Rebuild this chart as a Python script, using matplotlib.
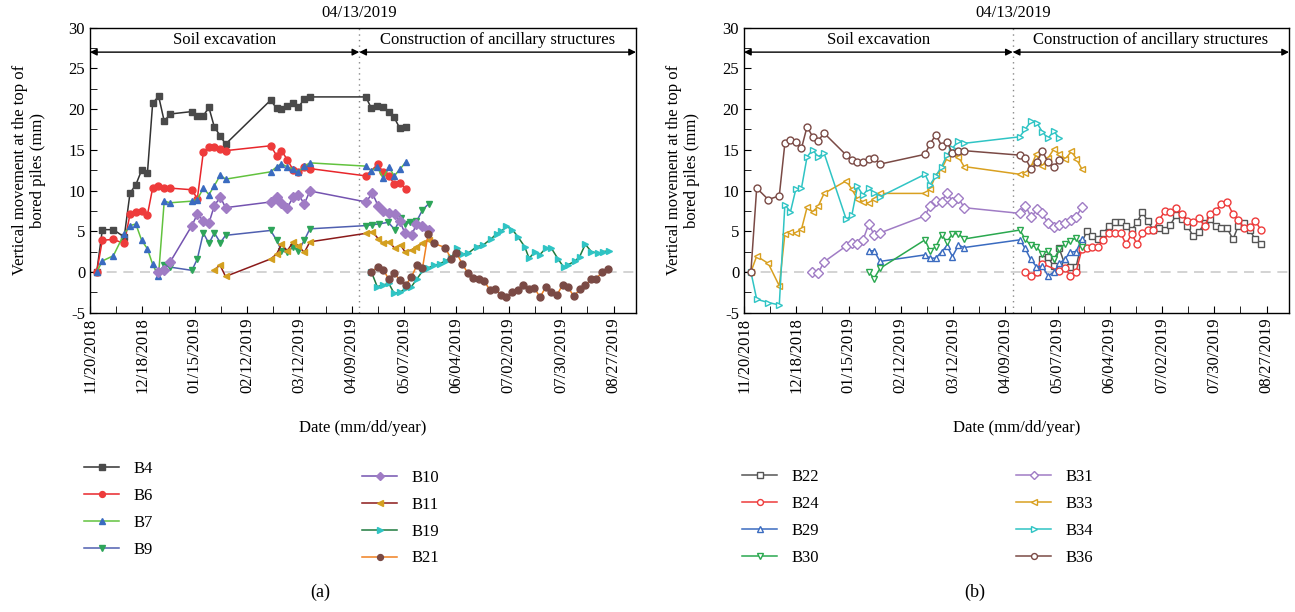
import numpy as np
import matplotlib
matplotlib.use("Agg")
import matplotlib.pyplot as plt
import matplotlib.dates as mdates
from matplotlib.ticker import FixedLocator, MultipleLocator
from datetime import datetime

plt.rcParams['font.family'] = ['Liberation Serif', 'DejaVu Serif']
plt.rcParams['axes.unicode_minus'] = False

# ---------------- data (days after 11/20/2018, vertical movement in mm) ----------------
START = "2018-11-20"
EVENT_DAY = 144  # 04/13/2019
MAJOR_TICK_DAYS = [0, 28, 56, 84, 112, 140, 168, 196, 224, 252, 280]

# Panel (a)
B4_d = [3.6, 6.6, 12.5, 18.3, 21.4, 24.5, 27.6, 30.7, 33.5, 36.7, 39.7, 42.8, 54.5, 57.4, 60.6, 63.6,
        66.5, 69.7, 72.5, 96.6, 99.8, 102.4, 105.5, 108.7, 111.5, 114.6, 117.6, 147.5, 150.5, 153.6,
        156.6, 159.8, 162.6, 165.7, 168.9]
B4_v = [0, 5.2, 5.2, 4.3, 9.7, 10.7, 12.5, 12.1, 20.7, 21.6, 18.5, 19.4, 19.7, 19.2, 19.2, 20.2,
        17.8, 16.7, 15.7, 21.1, 20.1, 20.0, 20.4, 20.7, 20.2, 21.3, 21.5, 21.5, 20.1, 20.4,
        20.3, 19.6, 19.0, 17.65, 17.85]

B6_d = [3.6, 6.6, 12.5, 18.3, 21.4, 24.5, 27.6, 30.7, 33.5, 36.6, 39.7, 42.8, 54.5, 57.4, 60.6, 63.6,
        66.5, 69.7, 72.5, 96.6, 99.8, 102.4, 105.5, 108.7, 111.5, 114.6, 117.6, 147.5, 153.8, 156.8,
        159.9, 162.7, 165.7, 168.9]
B6_v = [0, 3.9, 4.0, 3.5, 7.1, 7.4, 7.5, 7.0, 10.3, 10.6, 10.3, 10.3, 10.1, 9.0, 14.7, 15.3,
        15.3, 15.1, 14.9, 15.5, 14.3, 14.9, 13.8, 12.5, 12.3, 12.9, 12.7, 11.8, 13.2, 12.3,
        11.8, 10.8, 10.9, 10.2]

B7_d = [3.6, 6.6, 12.5, 18.3, 21.5, 24.5, 27.6, 30.7, 33.5, 36.6, 39.7, 42.8, 54.5, 57.4, 60.6, 63.6,
        66.5, 69.7, 72.5, 96.6, 99.8, 102.4, 105.5, 108.7, 111.5, 114.6, 117.6, 147.5, 150.5, 153.6,
        156.8, 159.8, 162.7, 165.7, 168.9]
B7_v = [0, 1.35, 2.0, 4.7, 5.7, 5.9, 3.9, 2.85, 0.95, -0.55, 8.7, 8.5, 8.7, 8.9, 10.3, 9.5,
        10.6, 11.9, 11.4, 12.3, 12.9, 13.3, 12.9, 12.65, 12.3, 13.0, 13.4, 13.0, 12.4, 12.9,
        11.5, 12.9, 11.8, 12.6, 13.5]

B9_d = [36.6, 39.7, 42.8, 54.5, 57.4, 60.6, 63.6, 66.5, 69.7, 72.5, 96.6, 99.8, 102.4, 105.5, 108.7,
        111.5, 114.6, 117.6, 147.7, 151.0, 154.5, 159.5, 163.0, 166.1, 168.5, 171.1, 174.6, 177.8, 181.2]
B9_v = [0, 0.8, 0.6, 0.2, 1.6, 4.8, 3.5, 4.8, 3.6, 4.5, 5.1, 3.9, 2.6, 2.4, 3.1,
        2.6, 3.9, 5.3, 5.7, 5.8, 5.9, 6.1, 5.2, 6.6, 5.9, 6.1, 6.2, 7.6, 8.4]

B10_d = [36.6, 39.7, 42.8, 54.5, 57.4, 60.6, 63.6, 66.5, 69.7, 72.5, 96.6, 99.8, 102.4, 105.5, 108.7,
         111.5, 114.6, 117.6, 147.7, 151.0, 154.1, 156.8, 160.0, 163.0, 165.7, 168.4, 172.0, 174.6,
         177.8, 181.2]
B10_v = [0, 0.25, 1.2, 5.7, 7.1, 6.3, 6.0, 8.15, 9.2, 7.9, 8.6, 9.2, 8.5, 7.9, 9.2,
         9.5, 8.35, 9.95, 8.6, 9.7, 8.1, 7.5, 7.2, 7.1, 6.2, 4.8, 4.5, 5.9,
         5.6, 5.2]

B11_d = [66.5, 69.5, 72.5, 96.6, 99.8, 102.4, 105.5, 108.7, 111.5, 114.6, 117.6, 147.7, 151.0, 154.1,
         156.8, 160.0, 163.0, 166.1, 168.4, 172.0, 174.6, 177.8, 181.2]
B11_v = [0.25, 0.85, -0.55, 1.6, 2.2, 3.4, 2.6, 3.7, 3.2, 2.4, 3.7, 4.75, 4.95, 4.1,
         3.5, 3.7, 2.9, 3.3, 2.5, 2.7, 3.1, 3.5, 3.9]

B19_d = [150.5, 153.6, 156.8, 159.8, 162.6, 165.7, 168.9, 171.9, 175.0, 178.1, 180.8, 184.0, 187.0,
         190.3, 193.3, 196.3, 199.2, 202.2, 206.7, 210.2, 214.7, 217.4, 220.0, 222.7, 225.9, 228.9,
         232.5, 234.8, 237.8, 240.5, 243.7, 246.8, 250.3, 253.3, 255.7, 259.2, 261.9, 264.9, 268.1,
         271.7, 274.4, 277.6]
B19_v = [0.0, -1.8, -1.6, -1.4, -2.6, -2.5, -2.0, -1.8, -0.8, 0.2, 0.5, 0.8, 1.0,
         1.4, 1.8, 2.9, 2.2, 2.3, 3.1, 3.3, 4.1, 4.7, 5.0, 5.6, 5.2, 4.3,
         3.1, 1.7, 2.4, 2.1, 2.9, 2.9, 1.6, 0.6, 0.9, 1.3, 1.9, 3.4, 2.5,
         2.3, 2.5, 2.6]

B21_d = [150.5, 153.8, 156.8, 159.8, 162.6, 165.7, 168.9, 171.9, 175.0, 177.8, 180.8, 184.0, 190.0,
         193.0, 196.0, 199.0, 202.0, 205.0, 207.8, 210.8, 213.8, 216.8, 219.7, 222.7, 225.6, 228.7,
         231.8, 234.8, 237.6, 240.7, 243.7, 246.7, 249.8, 252.7, 255.7, 258.8, 261.9, 264.9, 267.9,
         270.8, 273.9, 276.9]
B21_v = [0.0, 0.6, 0.3, -0.9, -0.1, -1.0, -1.6, -0.6, 0.9, 0.45, 4.65, 3.5, 3.0,
         1.65, 2.35, 1.0, -0.1, -0.7, -0.85, -1.1, -2.2, -2.1, -2.8, -3.1, -2.5, -2.25,
         -1.6, -2.05, -1.95, -3.1, -1.85, -2.5, -2.8, -1.6, -1.9, -3.0, -2.1, -1.65, -0.9,
         -0.8, 0.0, 0.4]

# Panel (b)
B22_d = [156.9, 159.9, 162.9, 165.9, 168.9, 171.9, 174.9, 177.9, 180.9, 183.7, 186.7, 189.6, 192.6,
         195.8, 198.9, 201.9, 204.7, 207.8, 210.6, 213.5, 216.3, 219.3, 222.4, 225.6, 228.4, 231.6,
         234.6, 237.5, 240.7, 243.7, 246.9, 249.7, 252.8, 255.8, 258.8, 262.0, 264.7, 267.9, 270.9,
         273.9, 277.1]
B22_v = [0.0, 1.6, 1.8, 0.7, 2.9, 0.9, 0.6, 0.6, 3.6, 5.0, 4.4, 4.1, 4.8,
         5.65, 6.1, 6.1, 5.6, 5.2, 6.1, 7.4, 6.2, 5.2, 5.4, 5.2, 5.8, 7.0,
         6.5, 5.65, 4.4, 4.95, 6.0, 6.5, 5.6, 5.4, 5.4, 4.0, 5.6, 6.0, 5.2,
         4.0, 3.4]

B24_d = [150.6, 153.9, 156.8, 159.8, 168.7, 171.9, 174.9, 177.9, 181.0, 183.7, 186.7, 189.6, 192.6,
         195.8, 198.9, 201.9, 204.7, 207.8, 210.6, 213.5, 216.3, 219.3, 222.4, 225.6, 228.4, 231.6,
         234.6, 237.5, 240.7, 243.7, 246.9, 249.7, 252.8, 255.8, 258.8, 262.0, 264.7, 267.9, 270.9,
         273.9, 277.1]
B24_v = [0.0, -0.55, 0.0, 1.0, 0.15, 0.55, -0.5, 0.0, 2.8, 3.0, 3.1, 3.1, 3.9,
         4.8, 4.8, 4.75, 3.4, 4.7, 3.4, 4.75, 5.2, 5.2, 6.4, 7.5, 7.4, 7.9,
         7.1, 6.2, 6.1, 6.6, 5.65, 7.1, 7.5, 8.4, 8.6, 7.1, 6.4, 5.45, 5.5,
         6.3, 5.1]

B29_d = [66.9, 69.7, 72.9, 97.0, 99.6, 102.8, 105.9, 108.7, 111.7, 114.9, 117.9, 147.8, 150.6, 153.6,
         156.7, 159.8, 163.0, 166.0, 169.0, 171.9, 174.9, 177.9, 181.0]
B29_v = [2.6, 2.6, 1.3, 2.1, 1.7, 1.7, 2.5, 3.2, 1.9, 3.3, 3.0, 3.95, 2.9, 1.55,
         0.65, 0.7, -0.5, 0.0, 1.05, 1.6, 2.45, 2.5, 4.0]

B30_d = [66.9, 69.7, 72.9, 97.0, 99.6, 102.8, 105.9, 108.7, 111.7, 114.9, 117.9, 147.8, 150.8, 153.6,
         156.7, 159.8, 163.0, 166.0, 169.0, 171.9, 174.9, 177.9, 181.0]
B30_v = [0.0, -0.8, 0.45, 3.95, 2.6, 3.1, 4.55, 3.7, 4.7, 4.7, 4.05, 5.15, 4.0, 3.3,
         3.1, 2.2, 2.6, 1.55, 2.8, 3.45, 3.85, 4.15, 3.05]

B31_d = [36.6, 39.7, 42.9, 54.8, 57.8, 60.8, 63.7, 66.9, 69.7, 72.9, 97.0, 99.6, 102.8, 105.9, 108.7,
         111.7, 114.9, 117.9, 147.7, 150.8, 153.9, 157.1, 159.7, 162.8, 166.0, 169.0, 172.2, 175.4,
         178.1, 181.1]
B31_v = [0.0, -0.15, 1.25, 3.2, 3.5, 3.4, 3.9, 5.9, 4.55, 4.8, 6.9, 8.1, 8.7, 8.65, 9.75,
         8.65, 9.1, 7.9, 7.2, 8.15, 6.7, 7.75, 7.2, 6.05, 5.55, 5.75, 6.05, 6.4,
         6.8, 8.0]

B33_d = [3.7, 6.8, 13.0, 18.9, 21.9, 24.9, 27.8, 30.8, 33.8, 36.8, 39.7, 42.9, 54.8, 57.8, 60.8, 63.7,
         66.9, 69.7, 72.9, 97.0, 99.6, 102.8, 105.9, 108.7, 111.7, 114.9, 117.9, 147.7, 150.8, 153.9,
         156.5, 159.7, 162.8, 166.0, 169.0, 172.2, 175.4, 178.1, 181.1]
B33_v = [0.0, 1.95, 1.05, -1.7, 4.65, 4.95, 4.75, 5.25, 7.95, 7.4, 8.05, 9.65, 11.2, 10.15, 8.95, 8.65,
         8.45, 8.95, 9.65, 9.65, 10.15, 11.9, 12.65, 13.95, 14.6, 14.15, 12.95, 12.0, 12.1, 13.0,
         14.45, 13.0, 13.95, 15.1, 14.45, 13.9, 14.8, 13.9, 12.6]

B34_d = [3.7, 6.8, 13.0, 18.9, 21.9, 24.9, 27.8, 30.8, 33.8, 36.8, 39.7, 42.9, 54.8, 57.8, 60.8, 63.7,
         66.9, 69.7, 72.9, 97.0, 99.6, 102.8, 105.9, 108.7, 111.7, 114.9, 117.9, 147.7, 150.8, 153.9,
         157.1, 159.7, 162.8, 166.0, 169.0]
B34_v = [0.0, -3.35, -3.75, -4.05, 8.25, 7.4, 10.2, 10.3, 14.15, 15.0, 14.15, 14.6, 6.45, 7.0, 10.5, 9.45,
         10.3, 9.65, 9.25, 12.0, 10.7, 11.8, 12.95, 14.35, 15.2, 16.1, 15.8, 16.6, 17.55, 18.55,
         18.25, 17.25, 16.4, 17.3, 16.4]

B36_d = [3.7, 6.8, 13.0, 18.9, 21.9, 24.9, 27.8, 30.8, 33.8, 36.8, 39.7, 42.9, 54.8, 57.8, 60.8, 63.7,
         66.9, 69.7, 72.9, 97.0, 99.6, 102.8, 105.9, 108.7, 111.7, 114.9, 117.9, 147.7, 150.8, 153.9,
         157.1, 159.7, 162.8, 166.0, 169.0]
B36_v = [0.0, 10.3, 8.9, 9.35, 15.8, 16.2, 15.95, 15.2, 17.85, 16.6, 16.1, 17.05, 14.35, 13.7, 13.55, 13.45,
         13.85, 14.05, 13.25, 14.45, 15.7, 16.85, 15.5, 16.0, 14.6, 14.9, 14.9, 14.35, 13.95, 12.6,
         13.55, 14.9, 13.55, 12.95, 13.75]

# ---------------- styles ----------------
series_a = [
    ("B4", B4_d, B4_v, "#333333", "s", "#4a4a4a"),
    ("B6", B6_d, B6_v, "#e8262b", "o", "#ee3b3b"),
    ("B7", B7_d, B7_v, "#62c23e", "^", "#3a6bc0"),
    ("B9", B9_d, B9_v, "#4f5fb0", "v", "#2ea55a"),
    ("B10", B10_d, B10_v, "#7453b0", "D", "#a07cc5"),
    ("B11", B11_d, B11_v, "#8b1a1a", "<", "#d4a020"),
    ("B19", B19_d, B19_v, "#1e7a3e", ">", "#2fc4c4"),
    ("B21", B21_d, B21_v, "#f08020", "o", "#7a4a45"),
]
series_b = [
    ("B22", B22_d, B22_v, "#555555", "s"),
    ("B24", B24_d, B24_v, "#ee3b3b", "o"),
    ("B29", B29_d, B29_v, "#3a6bc0", "^"),
    ("B30", B30_d, B30_v, "#2aa84f", "v"),
    ("B31", B31_d, B31_v, "#a07cc5", "D"),
    ("B33", B33_d, B33_v, "#d9a020", "<"),
    ("B34", B34_d, B34_v, "#2fc4c4", ">"),
    ("B36", B36_d, B36_v, "#7a4a45", "o"),
]

base = mdates.date2num(datetime.strptime(START, "%Y-%m-%d"))

fig = plt.figure(figsize=(12.95, 6.12), dpi=100)
W, H = 1295, 612
axL = fig.add_axes([90 / W, 1 - 312.7 / H, 546 / W, 285 / H])
axR = fig.add_axes([744 / W, 1 - 312.7 / H, 545 / W, 285 / H])

FS = 12


def style_axes(ax):
    ax.set_xlim(base, base + 292)
    ax.set_ylim(-5, 30)
    ax.xaxis.set_major_locator(FixedLocator([base + d for d in MAJOR_TICK_DAYS]))
    ax.xaxis.set_minor_locator(FixedLocator([base + d for d in range(0, 292, 14)]))
    ax.xaxis.set_major_formatter(mdates.DateFormatter("%m/%d/%Y"))
    ax.yaxis.set_major_locator(MultipleLocator(5))
    ax.yaxis.set_minor_locator(MultipleLocator(2.5))
    ax.tick_params(axis="both", which="both", direction="in", labelsize=FS)
    ax.tick_params(which="major", length=5)
    ax.tick_params(which="minor", length=5)
    for lab in ax.get_xticklabels():
        lab.set_rotation(90)
    for s in ax.spines.values():
        s.set_linewidth(1.0)
    ax.axhline(0, color="#cccccc", lw=1.2, ls=(0, (6, 4)), zorder=1)
    ex = base + EVENT_DAY
    ax.axvline(ex, color="#888888", lw=1.0, ls=(0, (1, 3)), zorder=1)
    ax.text(ex, 30.8, "04/13/2019", ha="center", va="bottom", fontsize=FS)
    ax.annotate("", xy=(base, 27.0), xytext=(ex, 27.0),
                arrowprops=dict(arrowstyle="<|-|>", color="black", lw=1.0,
                                shrinkA=0, shrinkB=0, mutation_scale=10))
    ax.annotate("", xy=(ex, 27.0), xytext=(base + 292, 27.0),
                arrowprops=dict(arrowstyle="<|-|>", color="black", lw=1.0,
                                shrinkA=0, shrinkB=0, mutation_scale=10))
    ax.text(base + EVENT_DAY / 2, 27.5, "Soil excavation", ha="center", va="bottom", fontsize=FS)
    ax.text(ex + (292 - EVENT_DAY) / 2, 27.5, "Construction of ancillary structures",
            ha="center", va="bottom", fontsize=FS)
    ax.set_xlabel("Date (mm/dd/year)", fontsize=FS, labelpad=19)
    ax.set_ylabel("Vertical movement at the top of\nbored piles (mm)", fontsize=FS, labelpad=16,
                  linespacing=1.15)


style_axes(axL)
style_axes(axR)

handles_a = []
for name, d, v, lc, mk, mc in series_a:
    h, = axL.plot(base + np.array(d), v, color=lc, lw=1.1, marker=mk, ms=5 if mk != "D" else 4.6,
                  mfc=mc, mec=mc, label=name, zorder=3)
    handles_a.append(h)

handles_b = []
for name, d, v, c, mk in series_b:
    h, = axR.plot(base + np.array(d), v, color=c, lw=1.1, marker=mk, ms=5 if mk != "D" else 4.6,
                  mfc="white", mec=c, mew=1.0, label=name, zorder=3)
    handles_b.append(h)

leg_kw = dict(frameon=False, fontsize=FS, handlelength=2.1, handletextpad=0.9,
              labelspacing=0.65, borderpad=0, borderaxespad=0, loc="upper left", markerscale=0.85)
fig.legend(handles=handles_a[:4], bbox_to_anchor=(84 / W, 1 - 461 / H), **leg_kw)
fig.legend(handles=handles_a[4:], bbox_to_anchor=(362 / W, 1 - 470 / H), **leg_kw)
fig.legend(handles=handles_b[:4], bbox_to_anchor=(742 / W, 1 - 469 / H), **leg_kw)
fig.legend(handles=handles_b[4:], bbox_to_anchor=(1016 / W, 1 - 469 / H), **leg_kw)

fig.text(320 / W, 1 - 592 / H, "(a)", ha="center", va="center", fontsize=FS + 1)
fig.text(975 / W, 1 - 592 / H, "(b)", ha="center", va="center", fontsize=FS + 1)

fig.savefig("out.png", dpi=100)
